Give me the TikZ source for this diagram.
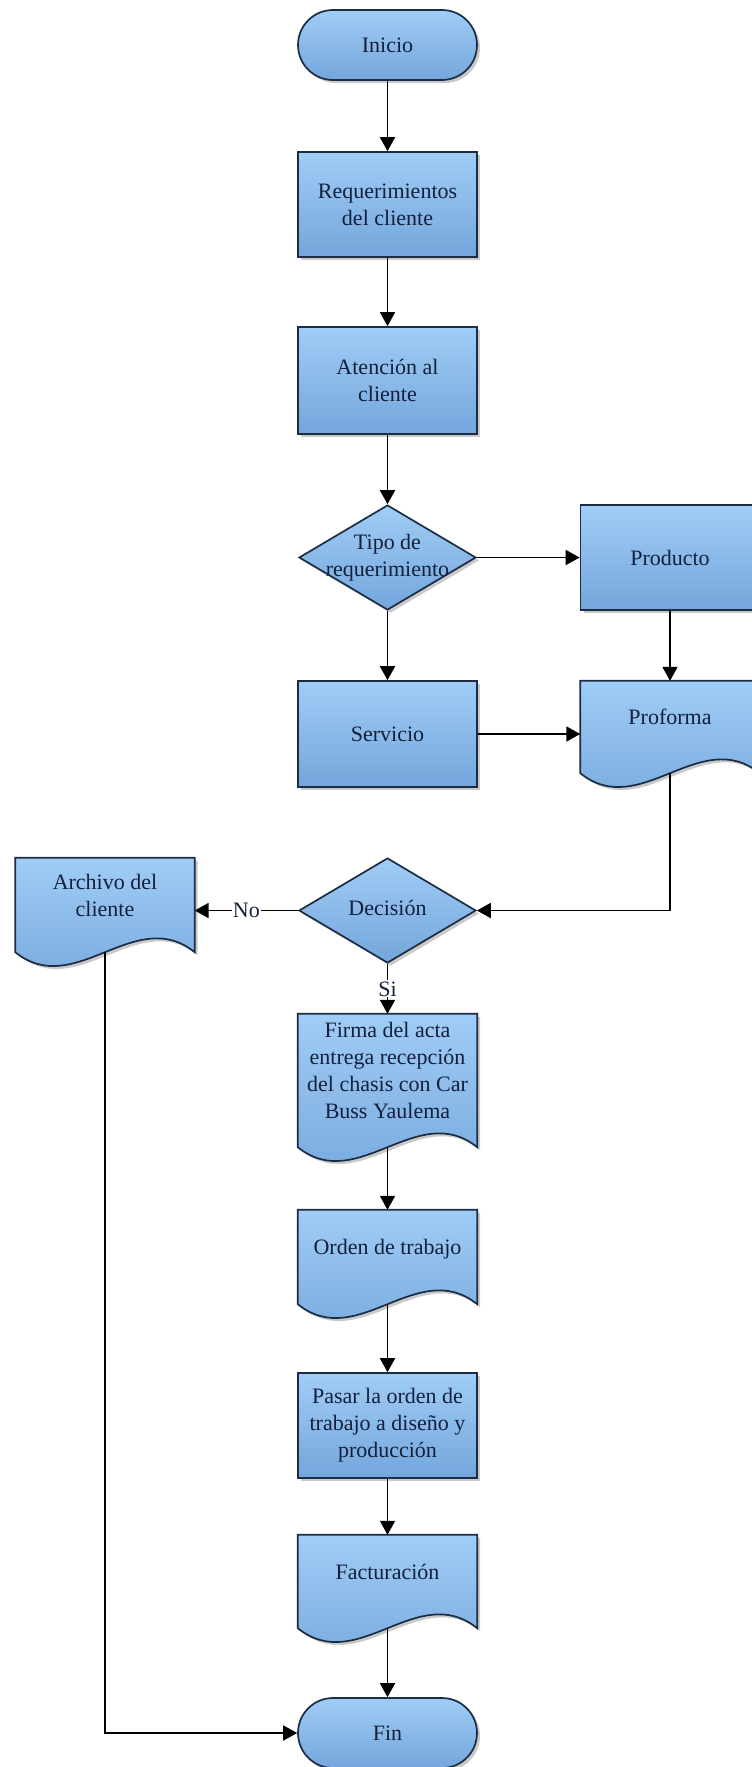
\documentclass[tikz,border=0pt]{standalone}
\usepackage{fontspec}
\setmainfont{Liberation Serif}
\usetikzlibrary{shapes.geometric,arrows.meta,shadows,backgrounds,calc}
\definecolor{boxtop}{RGB}{160,205,246}
\definecolor{boxbot}{RGB}{116,166,220}
\definecolor{boxline}{RGB}{28,44,66}
\definecolor{txt}{RGB}{20,32,60}
\tikzset{
  fnt/.style={font=\fontsize{22}{27}\selectfont},
  shd/.style={drop shadow={shadow xshift=3pt,shadow yshift=-3pt,opacity=0.35,fill=black!60}},
  base/.style={draw=boxline,line width=1.7pt,top color=boxtop,bottom color=boxbot,shd,text=txt,fnt,align=center,inner sep=2pt},
  proc/.style={base,rectangle,minimum width=179pt,minimum height=105pt},
  term/.style={base,rectangle,rounded corners=35pt,minimum width=179pt,minimum height=70pt},
  dec/.style={base,diamond,minimum width=177pt,minimum height=105pt},
  doc/.style={rectangle,draw=none,minimum width=179pt,text=txt,fnt,align=center,text depth=20pt,inner sep=0pt},
  docshape/.style={draw=boxline,line width=1.7pt,top color=boxtop,bottom color=boxbot,shd},
  conn/.style={draw=black,line width=1.8pt,-{Triangle[length=14pt,width=15pt]}},
  lbl/.style={fill=white,inner sep=1pt,text=txt,fnt},
}
\newcommand{\docwave}[1]{%
  \begin{scope}[on background layer]
  \path[docshape] (#1.north west) -- (#1.north east) -- (#1.south east)
    .. controls ($(#1.south west)!0.6667!(#1.south east)+(0,-48)$) and ($(#1.south west)!0.3333!(#1.south east)+(0,48)$) .. (#1.south west) -- cycle;
  \end{scope}}
\newcommand{\dtext}[1]{\makebox[0pt]{\begin{tabular}{@{}c@{}}#1\end{tabular}}}
\begin{document}
\begin{tikzpicture}[x=1pt,y=-1pt]
\useasboundingbox (0,0) rectangle (752,1767);
\begin{scope}[on background layer]
\fill[white] (0,0) rectangle (752,1767);
\end{scope}
\node[term] (ini) at (387.5,45) {Inicio};
\node[proc] (req) at (387.5,204.5) {Requerimientos\\del cliente};
\node[proc,minimum height=107pt] (ate) at (387.5,380.5) {Atención al\\cliente};
\node[dec] (tipo) at (387.5,557.5) {\dtext{Tipo de\\requerimiento}};
\node[proc] (prod) at (670,557.5) {Producto};
\node[proc,minimum height=106pt] (serv) at (387.5,734) {Servicio};
\node[doc,minimum height=92pt] (prof) at (670,727) {Proforma};
\docwave{prof}
\node[dec] (deci) at (387.5,910.5) {\dtext{Decisión}};
\node[doc,minimum height=94pt] (arch) at (105,905) {Archivo del\\cliente};
\docwave{arch}
\node[doc,minimum height=133pt] (firma) at (387.5,1080.5) {Firma del acta\\entrega recepción\\del chasis con Car\\Buss Yaulema};
\docwave{firma}
\node[doc,minimum height=94pt] (orden) at (387.5,1257) {Orden de trabajo};
\docwave{orden}
\node[proc] (pasar) at (387.5,1425.5) {Pasar la orden de\\trabajo a diseño y\\producción};
\node[doc,minimum height=93pt] (fact) at (387.5,1581.5) {Facturación};
\docwave{fact}
\node[term] (fin) at (387.5,1733) {Fin};

\draw[conn] (ini.south) -- (req.north);
\draw[conn] (req.south) -- (ate.north);
\draw[conn] (ate.south) -- (tipo.north);
\draw[conn] (tipo.east) -- (prod.west);
\draw[conn] (tipo.south) -- (serv.north);
\draw[conn] (prod.south) -- (prof.north);
\draw[conn] (serv.east) -- (serv.east -| prof.west);
\draw[conn] (prof.south) |- (deci.east);
\draw[conn] (deci.west) -- node[lbl]{No} (deci.west -| arch.east);
\draw[conn] (deci.south) -- node[lbl]{Si} (firma.north);
\draw[conn] (firma.south) -- (orden.north);
\draw[conn] (orden.south) -- (pasar.north);
\draw[conn] (pasar.south) -- (fact.north);
\draw[conn] (fact.south) -- (fin.north);
\draw[conn] (arch.south) |- (fin.west);
\end{tikzpicture}
\end{document}
